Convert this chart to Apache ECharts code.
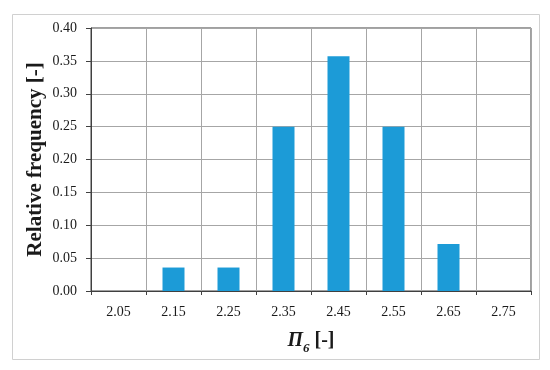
<!DOCTYPE html>
<html><head><meta charset="utf-8">
<script src="https://cdn.jsdelivr.net/npm/echarts@6/dist/echarts.min.js"></script>
<style>html,body{margin:0;padding:0;background:#fff}#c{width:550px;height:370px}</style>
</head><body><div id="c"></div>
<script>
var categories = ['2.05','2.15','2.25','2.35','2.45','2.55','2.65','2.75'];
var frequency = [0, 0.0357, 0.0357, 0.25, 0.357, 0.25, 0.0714, 0];
var yTicks = ['0.00','0.05','0.10','0.15','0.20','0.25','0.30','0.35','0.40'];
var FONT = '"Liberation Serif", "DejaVu Serif", serif';
var chart = echarts.init(document.getElementById('c'));
chart.setOption({
  animation: false,
  backgroundColor: '#fff',
  graphic: [{type:'rect', shape:{x:12.5,y:14.5,width:527,height:345}, style:{fill:'none', stroke:'#d0d0d0', lineWidth:1}, silent:true, z:-1}],
  grid: {left:91, right:19, top:28, bottom:79, show:true, borderColor:'#404040', borderWidth:1, backgroundColor:'transparent'},
  xAxis: {
    type:'category', data:categories, boundaryGap:true,
    axisLine:{lineStyle:{color:'#404040', width:1}},
    axisTick:{show:true, alignWithLabel:false, length:4, lineStyle:{color:'#404040'}},
    axisLabel:{fontFamily:FONT, fontSize:14, color:'#1a1a1a', margin:14},
    splitLine:{show:true, lineStyle:{color:'#a6a6a6', width:1}},
    name:'{a|Π}{b|6}{c| [-]}', nameLocation:'middle', nameGap:38, nameMoveOverlap:false,
    nameTextStyle:{rich:{
      a:{fontFamily:FONT, fontSize:20, fontWeight:'bold', fontStyle:'italic', color:'#1a1a1a', verticalAlign:'bottom', lineHeight:22},
      b:{fontFamily:FONT, fontSize:13, fontWeight:'bold', fontStyle:'italic', color:'#1a1a1a', verticalAlign:'bottom', lineHeight:14, padding:[0,0,-4,0]},
      c:{fontFamily:FONT, fontSize:20, fontWeight:'bold', color:'#1a1a1a', verticalAlign:'bottom', lineHeight:22}
    }}
  },
  yAxis: {
    type:'value', min:0, max:0.4, interval:0.05,
    axisLine:{show:true, lineStyle:{color:'#404040', width:1}},
    axisTick:{show:true, length:5, lineStyle:{color:'#404040'}},
    axisLabel:{fontFamily:FONT, fontSize:14, color:'#1a1a1a', margin:14,
      formatter:function(v){ return yTicks[Math.round(v/0.05)]; }},
    splitLine:{show:true, lineStyle:{color:'#a6a6a6', width:1}},
    name:'Relative frequency [-]', nameLocation:'middle', nameGap:45, nameRotate:90, nameMoveOverlap:false,
    nameTextStyle:{fontFamily:FONT, fontSize:21, fontWeight:'bold', color:'#1a1a1a'}
  },
  series: [{type:'bar', data:frequency, barWidth:22, itemStyle:{color:'#1c9bd7'}}]
});
</script></body></html>
